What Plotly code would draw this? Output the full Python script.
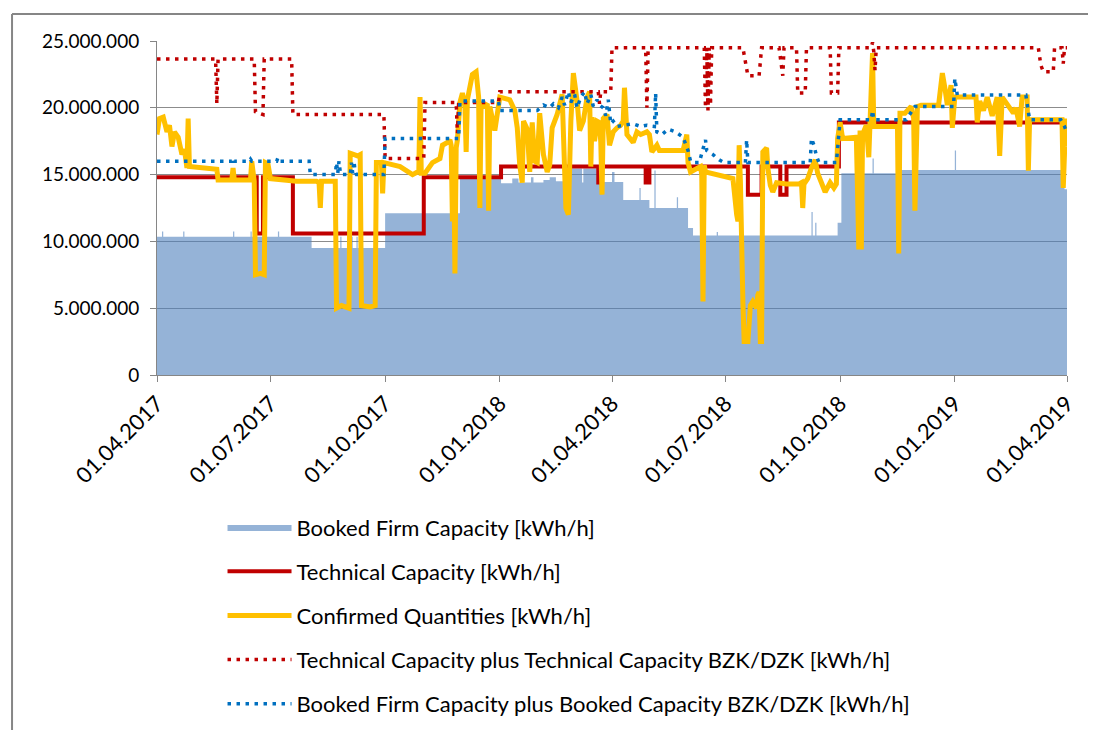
import pandas as pd
import plotly.graph_objects as go

START = pd.Timestamp("2017-04-01")

# ---- data: day offset from 01.04.2017, value in million kWh/h ----
booked_day = [0, 4, 5, 21, 22, 61, 62, 75, 76, 97, 98, 124, 147, 148, 156, 157, 160, 161,
              183, 243, 276, 285, 290, 300, 302, 310, 315, 320, 331, 341, 342, 353, 365, 367,
              374, 387, 388, 395, 399, 400, 417, 418, 426, 430, 449, 450, 525, 526, 528, 529,
              546, 549, 574, 575, 596, 640, 641, 728, 730]
booked_val = [10.35, 10.75, 10.35, 10.75, 10.35, 10.75, 10.35, 10.75, 10.35, 10.75, 10.35, 9.5,
              10.35, 9.5, 10.35, 9.5, 10.35, 9.5, 12.1, 14.75, 14.35, 14.7, 14.4, 14.8, 14.4,
              14.6, 14.8, 14.5, 15.45, 14.4, 15.45, 14.45, 15.2, 14.45, 13.1, 14.0, 13.1, 12.5,
              15.3, 12.5, 13.3, 12.5, 11.0, 10.45, 10.7, 10.45, 12.2, 10.45, 11.4, 10.45, 11.4,
              15.1, 16.2, 15.1, 15.35, 16.8, 15.35, 13.9, 13.9]

tech_day = [0, 80, 85, 109, 214, 276, 354, 357, 392, 395, 474, 485, 500, 505, 547, 730]
tech_val = [14.8, 10.6, 14.8, 10.6, 14.8, 15.6, 14.4, 15.6, 14.4, 15.6, 13.5, 15.6, 13.5, 15.6,
            18.9, 18.9]

conf_day = [0, 2, 5, 8, 10, 12, 14, 17, 20, 22, 24, 25, 26, 34, 48, 49, 60, 61, 62, 75, 76, 78,
            79, 83, 86, 87, 89, 91, 112, 128, 130, 131, 132, 143, 144, 148, 153, 154, 155, 159,
            161, 163, 164, 171, 175, 176, 180, 181, 182, 195, 205, 209, 210, 211, 212, 215, 221,
            227, 229, 233, 235, 236, 237, 238, 239, 240, 241, 243, 245, 247, 248, 249, 251, 253,
            256, 258, 259, 260, 262, 265, 266, 267, 271, 273, 275, 283, 287, 289, 291, 293, 294,
            297, 299, 301, 303, 305, 307, 310, 313, 315, 317, 321, 325, 328, 330, 332, 334, 337,
            339, 342, 345, 347, 348, 349, 351, 353, 355, 356, 357, 358, 361, 363, 366, 369, 372,
            374, 375, 376, 377, 382, 385, 388, 393, 395, 397, 401, 403, 422, 425, 426, 428, 436,
            437, 438, 439, 440, 450, 462, 465, 466, 467, 468, 470, 471, 474, 476, 478, 481, 482,
            483, 484, 485, 486, 489, 490, 492, 494, 497, 505, 515, 517, 518, 519, 522, 525, 528,
            530, 534, 536, 540, 543, 545, 546, 548, 550, 561, 562, 563, 564, 565, 566, 569, 571,
            572, 574, 575, 576, 594, 595, 596, 600, 605, 607, 608, 610, 613, 627, 629, 630, 632,
            634, 637, 638, 640, 642, 657, 658, 660, 663, 666, 670, 674, 676, 678, 687, 689, 692,
            694, 698, 699, 700, 726, 727, 728, 729, 730]
conf_val = [18.0, 19.2, 19.3, 18.2, 18.7, 17.1, 18.2, 17.8, 16.5, 16.9, 15.5, 19.2, 15.6, 15.5,
            15.4, 14.6, 14.6, 15.5, 14.6, 14.6, 16.0, 14.5, 7.5, 7.6, 7.5, 15.9, 15.8, 14.7, 14.5,
            14.5, 14.4, 12.5, 14.5, 14.5, 5.0, 5.2, 5.1, 5.0, 16.6, 16.5, 16.4, 16.5, 5.2, 5.1,
            5.2, 15.9, 15.9, 13.6, 15.9, 15.6, 15.0, 15.2, 15.1, 20.8, 15.1, 15.1, 15.9, 16.2,
            17.2, 17.4, 17.6, 17.2, 11.5, 17.0, 7.6, 17.0, 17.6, 20.4, 21.1, 20.2, 16.7, 20.6,
            21.5, 22.5, 22.7, 20.8, 12.5, 20.4, 20.1, 20.3, 12.3, 20.1, 18.3, 19.5, 20.8, 20.6,
            19.8, 18.5, 15.7, 14.4, 19.0, 18.4, 15.2, 18.9, 16.0, 15.9, 19.6, 16.5, 15.2, 15.7,
            18.5, 19.5, 21.0, 12.5, 12.0, 19.0, 22.6, 20.5, 18.3, 19.0, 20.8, 21.2, 15.6, 19.3,
            17.5, 19.0, 18.9, 17.4, 13.5, 19.2, 19.5, 17.2, 18.2, 18.5, 18.7, 19.0, 21.5, 19.8,
            18.0, 17.4, 18.2, 18.0, 18.2, 18.0, 16.7, 17.2, 16.8, 16.8, 18.0, 15.9, 15.2, 15.6,
            15.0, 5.5, 15.7, 15.2, 15.0, 14.7, 12.0, 11.5, 17.2, 14.5, 5.5, 2.5, 2.5, 5.2, 5.5,
            5.0, 6.0, 6.2, 2.5, 2.5, 16.7, 17.0, 15.5, 14.2, 13.7, 14.4, 14.3, 14.3, 14.4, 12.5,
            14.3, 14.7, 15.5, 16.1, 15.1, 14.2, 13.7, 14.4, 14.0, 14.3, 17.7, 18.9, 17.7, 17.8,
            9.6, 9.4, 18.3, 9.4, 18.0, 18.7, 16.3, 18.6, 24.1, 18.6, 18.6, 18.6, 9.1, 19.6, 19.6,
            20.1, 19.2, 12.3, 20.1, 20.2, 20.2, 22.0, 22.6, 21.5, 20.2, 21.7, 18.5, 20.8, 20.8,
            20.8, 18.9, 20.5, 19.8, 20.8, 19.4, 20.8, 16.4, 20.8, 19.6, 20.0, 18.6, 20.8, 20.8,
            15.3, 19.1, 19.1, 14.0, 18.0, 19.2, 17.1]

techbzk_day = [0, 47, 48, 49, 78, 79, 85, 86, 108, 109, 182, 183, 214, 215, 240, 241, 242, 274,
               275, 354, 355, 356, 364, 365, 392, 393, 394, 439, 440, 441, 442, 443, 444, 445,
               470, 472, 474, 483, 485, 499, 501, 502, 503, 513, 514, 520, 521, 540, 541, 546,
               547, 573, 574, 575, 576, 577, 707, 709, 711, 719, 720, 726, 727, 728, 730]
techbzk_val = [23.65, 23.65, 20.3, 23.65, 23.65, 19.7, 19.5, 23.65, 23.65, 19.5, 19.5, 16.2,
               16.2, 20.4, 20.4, 18.1, 20.4, 20.4, 21.2, 21.2, 20.3, 21.2, 21.2, 24.5, 24.5,
               20.0, 24.5, 24.5, 20.0, 24.5, 19.8, 24.5, 20.2, 24.5, 24.5, 23.3, 22.4, 22.4,
               24.5, 24.5, 23.0, 22.4, 24.5, 24.5, 21.1, 21.1, 24.5, 24.5, 21.1, 21.1, 24.5,
               24.5, 24.9, 24.2, 22.8, 24.5, 24.5, 23.2, 22.7, 22.7, 24.5, 24.5, 23.3, 24.5, 24.5]

bookedbzk_day = [0, 60, 61, 62, 74, 75, 76, 96, 97, 98, 122, 123, 143, 144, 145, 146, 147, 148,
                 155, 156, 157, 158, 159, 160, 182, 183, 242, 243, 274, 275, 305, 310, 315, 318,
                 322, 325, 327, 330, 332, 335, 337, 340, 343, 345, 348, 350, 353, 355, 358, 360,
                 362, 364, 366, 369, 375, 382, 388, 393, 399, 400, 401, 405, 410, 416, 422, 426,
                 428, 430, 435, 440, 441, 446, 451, 455, 472, 473, 474, 524, 525, 527, 529, 531,
                 545, 548, 573, 574, 575, 601, 608, 639, 640, 641, 642, 697, 699, 700, 725, 728,
                 730]
bookedbzk_val = [16.0, 16.0, 16.25, 16.0, 16.0, 16.15, 16.0, 16.0, 16.25, 16.0, 16.0, 15.0,
                 15.0, 15.9, 15.1, 16.0, 15.2, 15.0, 15.0, 15.9, 15.1, 16.0, 15.2, 15.0, 15.0,
                 17.7, 17.7, 20.5, 20.5, 19.8, 19.8, 20.2, 20.0, 20.3, 20.0, 20.8, 20.2, 21.2,
                 20.4, 21.0, 20.0, 20.8, 21.2, 20.3, 21.0, 20.1, 20.6, 20.2, 20.0, 19.4, 20.6,
                 18.8, 19.0, 18.6, 18.7, 18.8, 18.6, 18.7, 18.6, 21.1, 18.2, 18.0, 18.4, 18.2,
                 17.8, 16.8, 16.0, 15.9, 15.9, 17.6, 16.8, 16.5, 16.1, 15.9, 15.9, 17.6, 15.9,
                 15.9, 17.7, 17.2, 16.4, 15.9, 15.9, 19.1, 19.1, 19.8, 19.1, 19.1, 20.1, 20.1,
                 22.2, 21.5, 20.95, 20.95, 19.8, 19.1, 19.1, 18.6, 18.1]

tick_dates = ["2017-04-01", "2017-07-01", "2017-10-01", "2018-01-01", "2018-04-01",
              "2018-07-01", "2018-10-01", "2019-01-01", "2019-04-01"]
y_ticks = [0, 5000000, 10000000, 15000000, 20000000, 25000000]

names = ["Booked Firm Capacity [kWh/h]",
         "Technical Capacity [kWh/h]",
         "Confirmed Quantities [kWh/h]",
         "Technical Capacity plus Technical Capacity BZK/DZK [kWh/h]",
         "Booked Firm Capacity plus Booked Capacity BZK/DZK [kWh/h]"]


def dates(days):
    return [START + pd.Timedelta(days=d) for d in days]


def kwh(vals):
    return [v * 1e6 for v in vals]


FONT = "Lato"
fig = go.Figure()

fig.add_trace(go.Scatter(
    x=dates(booked_day), y=kwh(booked_val), name=names[0], mode="lines",
    line=dict(width=0, shape="hv", color="rgba(79,129,189,0.6)"),
    fill="tozeroy", fillcolor="rgba(79,129,189,0.6)", legendgroup="g1"))
fig.add_trace(go.Scatter(
    x=dates(tech_day), y=kwh(tech_val), name=names[1], mode="lines",
    line=dict(width=4, shape="hv", color="#C00000"), legendgroup="g2"))
fig.add_trace(go.Scatter(
    x=dates(conf_day), y=kwh(conf_val), name=names[2], mode="lines",
    line=dict(width=5, color="#FFC000"), legendgroup="g3"))
fig.add_trace(go.Scatter(
    x=dates(techbzk_day), y=kwh(techbzk_val), name=names[3], mode="lines",
    line=dict(width=3.5, color="#C00000", dash="3.5px,5.5px"), legendgroup="g4"))
fig.add_trace(go.Scatter(
    x=dates(bookedbzk_day), y=kwh(bookedbzk_val), name=names[4], mode="lines",
    line=dict(width=3.5, color="#0070C0", dash="3.5px,5.5px"), legendgroup="g5"))

# outer chart-area frame (top and left edges visible)
fig.add_shape(type="line", xref="paper", yref="paper", x0=-0.1593, x1=1.04, y0=1.0808,
              y1=1.0808, line=dict(color="#868686", width=2))
fig.add_shape(type="line", xref="paper", yref="paper", x0=-0.1593, x1=-0.1593, y0=1.0808,
              y1=-1.1, line=dict(color="#868686", width=2))

fig.update_layout(
    width=1088, height=722,
    margin=dict(l=149, r=29, t=33, b=355),
    paper_bgcolor="white", plot_bgcolor="white",
    separators=",.",
    font=dict(family=FONT, size=19, color="#000000"),
    showlegend=True,
    legend=dict(
        orientation="v", x=0.072, xanchor="left", yref="container", y=0.31,
        yanchor="top", bgcolor="rgba(0,0,0,0)", traceorder="grouped",
        tracegroupgap=12.6, itemwidth=64,
        font=dict(family=FONT, size=22, color="#000000")),
    xaxis=dict(
        type="date", range=["2017-04-01", "2019-04-01"],
        tickvals=tick_dates, tickformat="%d.%m.%Y", tickangle=-45,
        showgrid=False, showline=True, linecolor="#868686", linewidth=1,
        ticks="outside", ticklen=6, tickcolor="#868686",
        tickfont=dict(family=FONT, size=22, color="#000000")),
    yaxis=dict(
        range=[0, 25000000], tickvals=y_ticks, tickformat=",d",
        showgrid=True, gridcolor="#8c8c8c", gridwidth=1,
        showline=True, linecolor="#868686", linewidth=1,
        ticks="outside", ticklen=6, tickcolor="#868686", zeroline=False,
        ticklabelstandoff=7,
        tickfont=dict(family=FONT, size=19, color="#000000")),
)

fig.write_html("out.html")
